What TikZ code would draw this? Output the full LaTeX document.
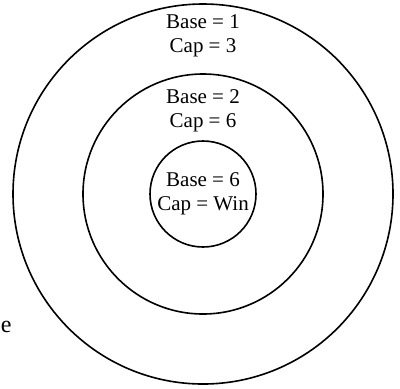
\documentclass[tikz,border=0pt]{standalone}
\usepackage{fontspec}
\setmainfont{Liberation Serif}
\usetikzlibrary{positioning}

\begin{document}
\begin{tikzpicture}[
  x=1pt, y=1pt,
  font=\fontsize{10.5}{12}\selectfont,
  ring/.style={draw, circle, line width=0.8pt, inner sep=0pt},
  lbl/.style={align=center, inner sep=0pt}]
  \useasboundingbox (0,0) rectangle (200,194);
  % rings, all round one centre
  \coordinate (c) at (101.5,97);
  \node[ring, minimum size=190pt] (outer) at (c) {};
  \node[ring, minimum size=120pt] (middle) at (c) {};
  \node[ring, minimum size=53pt] (inner) at (c) {};
  % labels
  \node[lbl] (lone) at (101.5,176) {Base = 1\\ Cap = 3};
  \node[lbl] (ltwo) at (101.5,138.5) {Base = 2\\ Cap = 6};
  \node[lbl] (lsix) at (c) {Base = 6\\ Cap = Win};
  \node[lbl, anchor=west, font=\fontsize{12}{14}\selectfont] (cut) at (0.3,30.5) {e};
\end{tikzpicture}
\end{document}
